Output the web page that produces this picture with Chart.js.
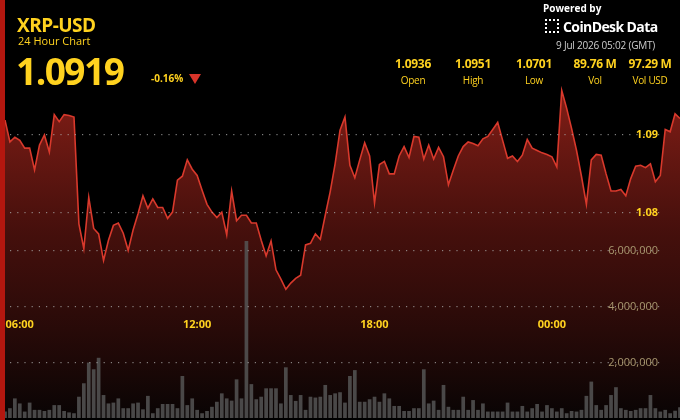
<!DOCTYPE html>
<html>
<head>
<meta charset="utf-8">
<script src="https://cdn.jsdelivr.net/npm/chart.js@4/dist/chart.umd.min.js"></script>
<style>
  html, body { margin: 0; padding: 0; background: #000; }
  body { width: 680px; height: 420px; position: relative; overflow: hidden; font-family: "Open Sans", "Noto Sans", sans-serif; }
  #wrap { position: absolute; left: 0; top: 0; width: 680px; height: 420px; }
  .edge { position: absolute; left: 0; top: 0; width: 5px; height: 420px; background: #b3170f; }
  .y { color: #ffd21f; }
  .abs { position: absolute; white-space: nowrap; }
  .stat { position: absolute; top: 55px; text-align: center; width: 60px; letter-spacing: -0.3px; }
  .stat b { display: block; font-size: 12px; color: #ffd21f; }
  .stat span { display: block; font-size: 10px; color: #ffd21f; margin-top: 1px; }
</style>
</head>
<body>
<div id="wrap"><canvas id="chart" width="680" height="420"></canvas></div>
<div class="edge"></div>
<div class="abs y" style="left:17px;top:12px;font-size:19px;font-weight:700;letter-spacing:-0.5px;">XRP-USD</div>
<div class="abs y" style="left:18px;top:33px;font-size:11px;">24 Hour Chart</div>
<div class="abs y" style="left:16px;top:45px;font-size:37px;font-weight:700;letter-spacing:-1.5px;">1.0919</div>
<div class="abs y" style="left:151px;top:71px;font-size:10px;font-weight:700;">-0.16%</div>
<div class="abs" style="left:189px;top:74px;width:0;height:0;border-left:6px solid transparent;border-right:6px solid transparent;border-top:10px solid #d8342a;"></div>
<div class="abs" style="left:543px;top:1px;font-size:10px;font-weight:700;color:#fff;">Powered by</div>
<div class="abs" style="left:545px;top:17px;font-size:14px;font-weight:700;color:#fff;letter-spacing:-0.6px;"><span style="display:inline-block;width:10px;height:10px;border:2px dotted #fff;margin-right:4px;vertical-align:-1px;"></span>CoinDesk Data</div>
<div class="abs" style="left:556px;top:38px;font-size:10px;color:#ccc;letter-spacing:-0.2px;">9 Jul 2026 05:02 (GMT)</div>
<div class="stat" style="left:383px;"><b>1.0936</b><span>Open</span></div>
<div class="stat" style="left:443px;"><b>1.0951</b><span>High</span></div>
<div class="stat" style="left:504px;"><b>1.0701</b><span>Low</span></div>
<div class="stat" style="left:565px;"><b>89.76 M</b><span>Vol</span></div>
<div class="stat" style="left:620px;"><b>97.29 M</b><span>Vol USD</span></div>
<script>
// 24h XRP-USD, 10 minute steps
const prices = [
  1.0918, 1.0890, 1.0896, 1.0892, 1.0882, 1.0882, 1.0854, 1.0886, 1.0899, 1.0877,
  1.0925, 1.0916, 1.0925, 1.0924, 1.0922, 1.0785, 1.0753, 1.0819, 1.0779, 1.0772,
  1.0738, 1.0764, 1.0783, 1.0786, 1.0773, 1.0751, 1.0777, 1.0798, 1.0821, 1.0805,
  1.0817, 1.0806, 1.0806, 1.0792, 1.0800, 1.0841, 1.0846, 1.0867, 1.0855, 1.0847,
  1.0828, 1.0810, 1.0800, 1.0793, 1.0800, 1.0771, 1.0827, 1.0789, 1.0796, 1.0796,
  1.0786, 1.0786, 1.0764, 1.0744, 1.0763, 1.0726, 1.0714, 1.0701, 1.0709, 1.0715,
  1.0719, 1.0758, 1.0760, 1.0772, 1.0765, 1.0796, 1.0826, 1.0862,
  1.0905, 1.0922, 1.0860, 1.0844, 1.0867, 1.0889, 1.0872, 1.0812, 1.0861, 1.0865,
  1.0849, 1.0849, 1.0872, 1.0884, 1.0870, 1.0897, 1.0896, 1.0868, 1.0886, 1.0868,
  1.0883, 1.0871, 1.0835, 1.0854, 1.0872, 1.0884, 1.0890, 1.0888, 1.0885, 1.0894,
  1.0897, 1.0906, 1.0915, 1.0892, 1.0869, 1.0872, 1.0865, 1.0873, 1.0893, 1.0882,
  1.0879, 1.0876, 1.0874, 1.0871, 1.0858, 1.0956, 1.0933, 1.0907, 1.0879, 1.0846,
  1.0810, 1.0867, 1.0874, 1.0873, 1.0849, 1.0827, 1.0827, 1.0829, 1.0821, 1.0843,
  1.0859, 1.0860, 1.0857, 1.0862, 1.0839, 1.0847, 1.0906, 1.0903, 1.0926, 1.0920
];
// volume in millions
const volumes = [
  0.23, 0.35, 0.70, 0.52, 0.23, 0.55, 0.29, 0.29, 0.25, 0.29,
  0.46, 0.46, 0.25, 0.20, 0.17, 0.76, 1.24, 1.98, 1.74, 2.15,
  0.82, 0.52, 0.55, 0.70, 0.35, 0.35, 0.52, 0.55, 0.31, 0.79,
  0.17, 0.35, 0.50, 0.50, 0.50, 0.35, 1.50, 0.46, 0.70, 0.29,
  0.17, 0.25, 0.40, 0.58, 0.88, 0.70, 0.62, 1.38, 0.70, 6.32,
  1.21, 0.67, 0.76, 1.06, 1.06, 1.06, 0.52, 1.81, 0.82, 0.61,
  0.82, 0.29, 0.76, 0.73, 0.76, 1.18, 0.82, 0.88, 0.92,
  0.55, 1.50, 1.71, 0.58, 0.58, 0.67, 0.76, 0.58, 0.88, 0.70,
  0.43, 0.43, 0.25, 0.25, 0.35, 0.35, 1.74, 0.52, 0.62, 0.29,
  1.18, 0.40, 0.29, 0.29, 0.76, 0.29, 0.64, 0.29, 0.52, 0.23,
  0.23, 0.23, 0.23, 0.55, 0.23, 0.23, 0.43, 0.23, 0.35, 0.50,
  0.23, 0.46, 0.35, 0.23, 0.35, 0.17, 0.25, 0.23, 0.29, 0.79,
  1.30, 0.46, 0.29, 0.46, 0.82, 1.10, 0.35, 0.29, 0.25, 0.29,
  0.35, 0.35, 0.82, 0.35, 0.23, 0.29, 0.17, 0.26, 0.38, 0.23
];
const timeLabels = [[4, '06:00'], [40, '12:00'], [76, '18:00'], [112, '00:00']];
const priceTicks = [1.08, 1.09];
const volumeTicks = [2, 4, 6];

const n = prices.length;
const idx = prices.map((_, i) => i);

// dotted grid + custom tick labels, drawn over the fill
const overlay = {
  id: 'overlay',
  afterDatasetsDraw(chart) {
    const { ctx, scales } = chart;
    const grid = (y) => {
      ctx.fillStyle = 'rgba(170,170,170,0.75)';
      for (let x = 10; x < 660; x += 7.2) ctx.fillRect(x, y, 1.2, 1.2);
    };
    ctx.save();
    priceTicks.forEach(v => grid(Math.round(scales.yPrice.getPixelForValue(v))));
    volumeTicks.forEach(v => grid(Math.round(scales.yVol.getPixelForValue(v))));
    ctx.textAlign = 'right';
    ctx.textBaseline = 'middle';
    ctx.font = 'bold 11px "Open Sans", sans-serif';
    ctx.fillStyle = '#ffd21f';
    priceTicks.forEach(v => ctx.fillText(v.toFixed(2), 658, scales.yPrice.getPixelForValue(v) + 1));
    ctx.font = '11px "Open Sans", sans-serif';
    ctx.fillStyle = '#a8976f';
    volumeTicks.forEach(v => ctx.fillText((v * 1e6).toLocaleString('en-US'), 658, scales.yVol.getPixelForValue(v) + 1));
    ctx.textAlign = 'center';
    ctx.font = 'bold 11px "Open Sans", sans-serif';
    ctx.fillStyle = '#ffd21f';
    timeLabels.forEach(([i, t]) => ctx.fillText(t, scales.x.getPixelForValue(i) - 5, 325));
    ctx.restore();
  }
};

const ctx = document.getElementById('chart').getContext('2d');
const fill = ctx.createLinearGradient(0, 85, 0, 418);
fill.addColorStop(0, 'rgba(140,32,24,0.95)');
fill.addColorStop(0.45, 'rgba(80,18,14,0.85)');
fill.addColorStop(1, 'rgba(8,4,4,1)');

new Chart(ctx, {
  data: {
    datasets: [
      {
        type: 'line',
        data: idx.map(i => ({ x: i, y: prices[i] })),
        yAxisID: 'yPrice',
        borderColor: '#d8392c',
        borderWidth: 1.6,
        backgroundColor: fill,
        fill: 'start',
        pointRadius: 0,
        tension: 0,
        order: 2
      },
      {
        type: 'bar',
        data: idx.map(i => ({ x: i, y: volumes[i] })),
        yAxisID: 'yVol',
        backgroundColor: 'rgba(85,85,85,0.85)',
        barPercentage: 0.75,
        categoryPercentage: 1,
        order: 1
      }
    ]
  },
  options: {
    responsive: false,
    animation: false,
    layout: { padding: { left: 5, right: 0, top: 85, bottom: 2 } },
    plugins: { legend: { display: false }, tooltip: { enabled: false } },
    scales: {
      x: { type: 'linear', display: false, min: 0, max: n - 1, offset: false },
      yPrice: { display: false, min: 1.0536, max: 1.0963 },
      yVol: { display: false, min: 0, max: 11.89 }
    }
  },
  plugins: [overlay]
});
</script>
</body>
</html>
